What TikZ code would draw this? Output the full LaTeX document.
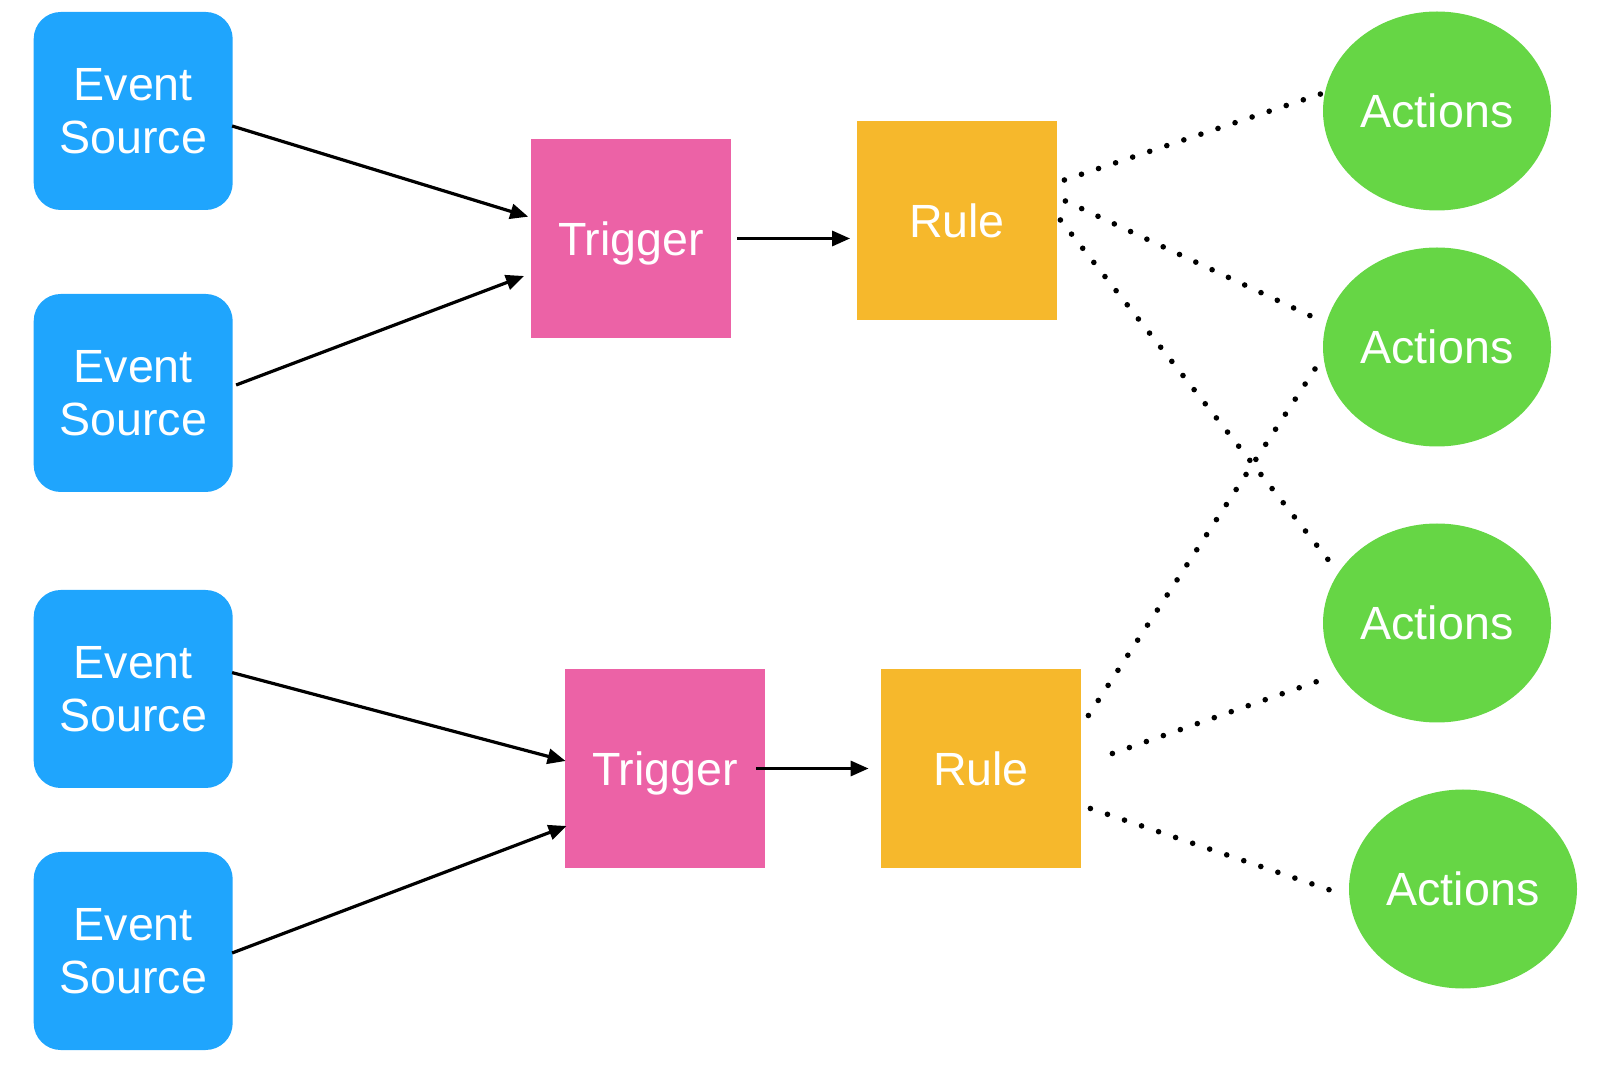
\documentclass[tikz,border=0pt]{standalone}
\usepackage{fontspec}
\setmainfont{Liberation Sans}
\usetikzlibrary{shapes.geometric,arrows.meta}
\definecolor{esblue}{HTML}{1FA5FD}
\definecolor{trigpink}{HTML}{EC62A6}
\definecolor{ruleorange}{HTML}{F6B82C}
\definecolor{actgreen}{HTML}{66D645}
\tikzset{
  lbl/.style={text=white,font=\fontsize{23.3pt}{26.7pt}\selectfont,align=center,inner sep=0pt},
  oneline/.style={text height=16.7pt,text depth=0pt},
  esbox/.style={lbl,text depth=0pt,fill=esblue,rounded corners=13.5pt,minimum width=99.5pt,minimum height=99pt},
  trigbox/.style={lbl,oneline,fill=trigpink,minimum width=100pt,minimum height=99.5pt},
  rulebox/.style={lbl,oneline,fill=ruleorange,minimum width=100pt,minimum height=99.5pt},
  actnode/.style={lbl,oneline,ellipse,fill=actgreen,minimum width=114pt,minimum height=99.5pt},
  arr/.style={line width=1.6pt,-{Triangle[length=9pt,width=7.5pt]}},
  dots/.style={line width=2.8pt,line cap=round,dash pattern=on 0pt off 9pt}
}
\begin{document}
\begin{tikzpicture}[x=0.5pt,y=-0.5pt]
\useasboundingbox (0,0) rectangle (1607,1068);
\node[esbox] (es1) at (133.2,111) {Event\\Source};
\node[esbox] (es2) at (133.2,393) {Event\\Source};
\node[esbox] (es3) at (133.2,689) {Event\\Source};
\node[esbox] (es4) at (133.2,951) {Event\\Source};
\node[trigbox] (t1) at (631,238.5) {Trigger};
\node[rulebox] (r1) at (957,221) {Rule};
\node[trigbox] (t2) at (665,768.5) {Trigger};
\node[rulebox] (r2) at (981,768.5) {Rule};
\node[actnode] (a1) at (1437,111) {Actions};
\node[actnode] (a2) at (1437,347) {Actions};
\node[actnode] (a3) at (1437,623) {Actions};
\node[actnode] (a4) at (1463,889) {Actions};
% arrows
\draw[arr] ([xshift=-0.5pt,yshift=-7.5pt]es1.east) -- ([xshift=-1.2pt,yshift=10.9pt]t1.west);
\draw[arr] ([xshift=1.5pt,yshift=4pt]es2.east) -- ([xshift=-3.3pt,yshift=-18.75pt]t1.west);
\draw[arr] ([xshift=3pt]t1.east) -- ([xshift=-3.25pt]t1.east -| r1.west);
\draw[arr] ([xshift=-0.5pt,yshift=8.2pt]es3.east) -- ([xshift=0.5pt,yshift=3.75pt]t2.west);
\draw[arr] ([xshift=-0.5pt,yshift=-1pt]es4.east) -- ([xshift=1pt,yshift=-28.75pt]t2.west);
\draw[arr] ([xshift=-4.5pt]t2.east) -- ([xshift=-6pt]t2.east -| r2.west);
% dotted links
\draw[dots] ([xshift=3.5pt,yshift=20.5pt]r1.east) -- ([xshift=-1pt,yshift=8.5pt]a1.west);
\draw[dots] ([xshift=4pt,yshift=10pt]r1.east) -- ([xshift=0.5pt,yshift=12.5pt]a2.west);
\draw[dots] ([xshift=1.5pt,yshift=0.5pt]r1.east) -- ([xshift=8pt,yshift=25pt]a3.west);
\draw[dots] ([xshift=3.5pt,yshift=26.5pt]r2.east) -- ([xshift=-3.5pt,yshift=-10.5pt]a2.west);
\draw[dots] ([xshift=15.5pt,yshift=7.5pt]r2.east) -- ([xshift=5pt,yshift=-26.5pt]a3.west);
\draw[dots] ([xshift=4.5pt,yshift=-20pt]r2.east) -- ([xshift=-2pt,yshift=-3pt]a4.west);
\end{tikzpicture}
\end{document}
